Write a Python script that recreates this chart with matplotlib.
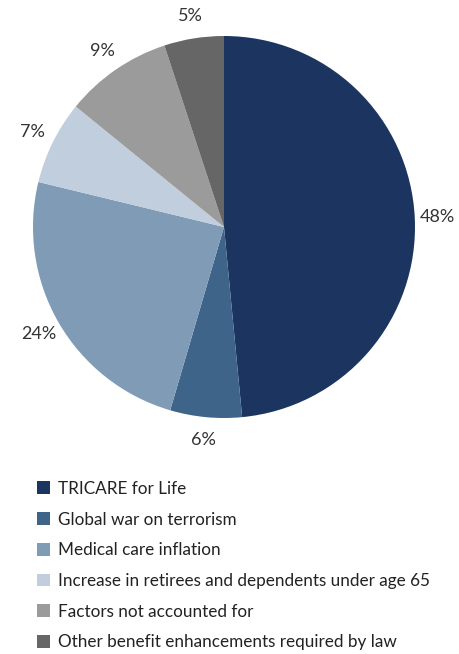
import matplotlib
matplotlib.use("Agg")
import matplotlib.pyplot as plt
from matplotlib.patches import Patch

plt.rcParams['font.family'] = ['Lato', 'DejaVu Sans']

categories = ["TRICARE for Life",
              "Global war on terrorism",
              "Medical care inflation",
              "Increase in retirees and dependents under age 65",
              "Factors not accounted for",
              "Other benefit enhancements required by law"]
shares = [48, 6, 24, 7, 9, 5]
pct_labels = ["48%", "6%", "24%", "7%", "9%", "5%"]
colors = ["#1c3560", "#3e6489", "#7f9bb6", "#c0cedd", "#9b9b9b", "#666666"]

W, H = 459, 654
fig = plt.figure(figsize=(W / 100, H / 100), dpi=100)

# pie centre ~ (224, 227) px, radius ~191 px
cx, cy, r = 224, 227, 191
ax = fig.add_axes([(cx - r) / W, (H - cy - r) / H, 2 * r / W, 2 * r / H])
wedges, texts = ax.pie(shares, labels=pct_labels, colors=colors, startangle=90,
                       counterclock=False, labeldistance=1.12,
                       textprops=dict(fontsize=13, color="#333333"))
for t in texts:
    t.set_horizontalalignment("center")
ax.set_xlim(-1, 1)
ax.set_ylim(-1, 1)
ax.set_aspect("equal")
ax.axis("off")

handles = [Patch(facecolor=c, edgecolor="none") for c in colors]
fig.legend(handles, categories, loc="upper left", bbox_to_anchor=(30 / W, 1 - 474 / H),
           frameon=False, fontsize=12.3, handlelength=0.78, handleheight=0.78,
           handletextpad=0.45, labelspacing=0.86, borderaxespad=0, labelcolor="#222222")

fig.savefig("out.png", dpi=100)
